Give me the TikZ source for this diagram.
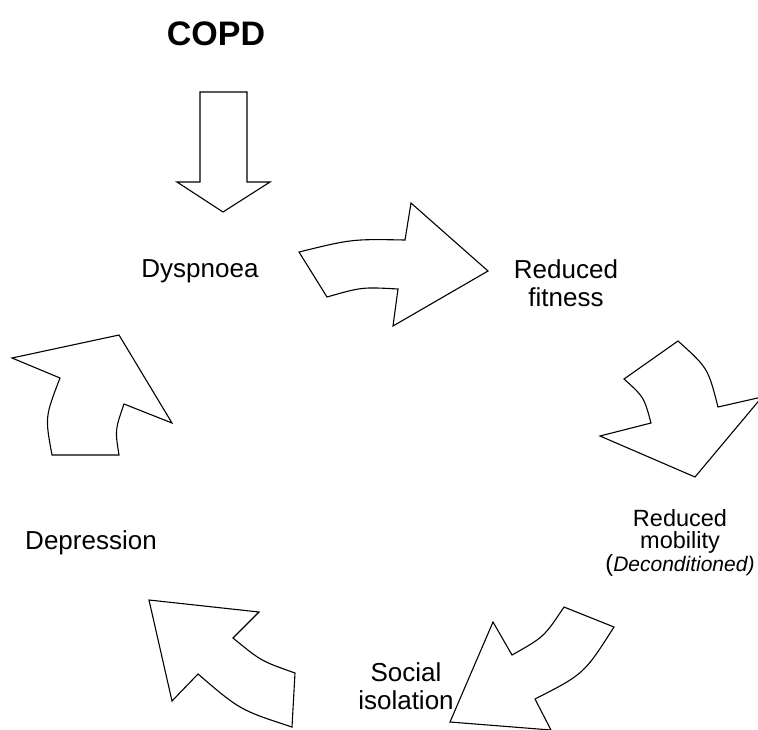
\documentclass[tikz,border=0pt]{standalone}
\usepackage{fontspec}
\setmainfont{Liberation Sans}
\usepackage{tikz}
\tikzset{
  blockarr/.style={draw=black, line width=1.1pt, fill=white, line join=miter},
  lbl/.style={font=\fontsize{26}{28}\selectfont, inner sep=0pt, align=center},
  lblsm/.style={font=\fontsize{23.5}{22.5}\selectfont, inner sep=0pt, align=center},
  ttl/.style={font=\bfseries\fontsize{34}{36}\selectfont, inner sep=0pt},
}

\begin{document}
\begin{tikzpicture}[x=1pt,y=-1pt]
\useasboundingbox[fill=white] (0,0) rectangle (758,729);
\clip (0,0) rectangle (758,729);
\node[ttl, anchor=base] (copd) at (216,45) {COPD};
\draw[blockarr] (200,92) -- (247,92) -- (247,182) -- (270,182) -- (223,212) -- (177,182) -- (200,182) -- cycle;
\node[lbl, anchor=base] (dysp) at (200,277) {Dyspnoea};
\node[lbl, anchor=north] (fit) at (566,259) {Reduced\\fitness};
\node[lblsm, anchor=north] (mob) at (680,509) {Reduced\\mobility\\({\itshape\fontsize{21}{22.5}\selectfont Deconditioned)}};
\node[lbl, anchor=north] (soc) at (406,662) {Social\\isolation};
\node[lbl, anchor=base] (dep) at (91,549) {Depression};
% dyspnoea -> fitness
\draw[blockarr] (299,252) .. controls (352,239) .. (405,240) -- (411,203) -- (488,271) -- (393,326) -- (398,289) .. controls (362,287) .. (327,297) -- cycle;
% fitness -> mobility
\draw[blockarr] (624,379) -- (678,341) .. controls (708,368) .. (718,407) -- (762,397) -- (695,477) -- (600,436) -- (651,423) .. controls (644,397) .. cycle;
% mobility -> isolation
\draw[blockarr] (564,607) -- (614,627) .. controls (584,674) .. (535,699) -- (551,730) -- (450,722) -- (493,622) -- (512,655) .. controls (544,637) .. cycle;
% isolation -> depression
\draw[blockarr] (149,600) -- (259,612) -- (233,638) .. controls (261,661) .. (295,673) -- (292,727) .. controls (240,710) .. (198,674) -- (172,701) -- cycle;
% depression -> dyspnoea
\draw[blockarr] (12,358) -- (119,335) -- (172,423) -- (124,404) .. controls (115,430) .. (119,455) -- (52,455) .. controls (45,417) .. (60,378) -- cycle;
\end{tikzpicture}
\end{document}
